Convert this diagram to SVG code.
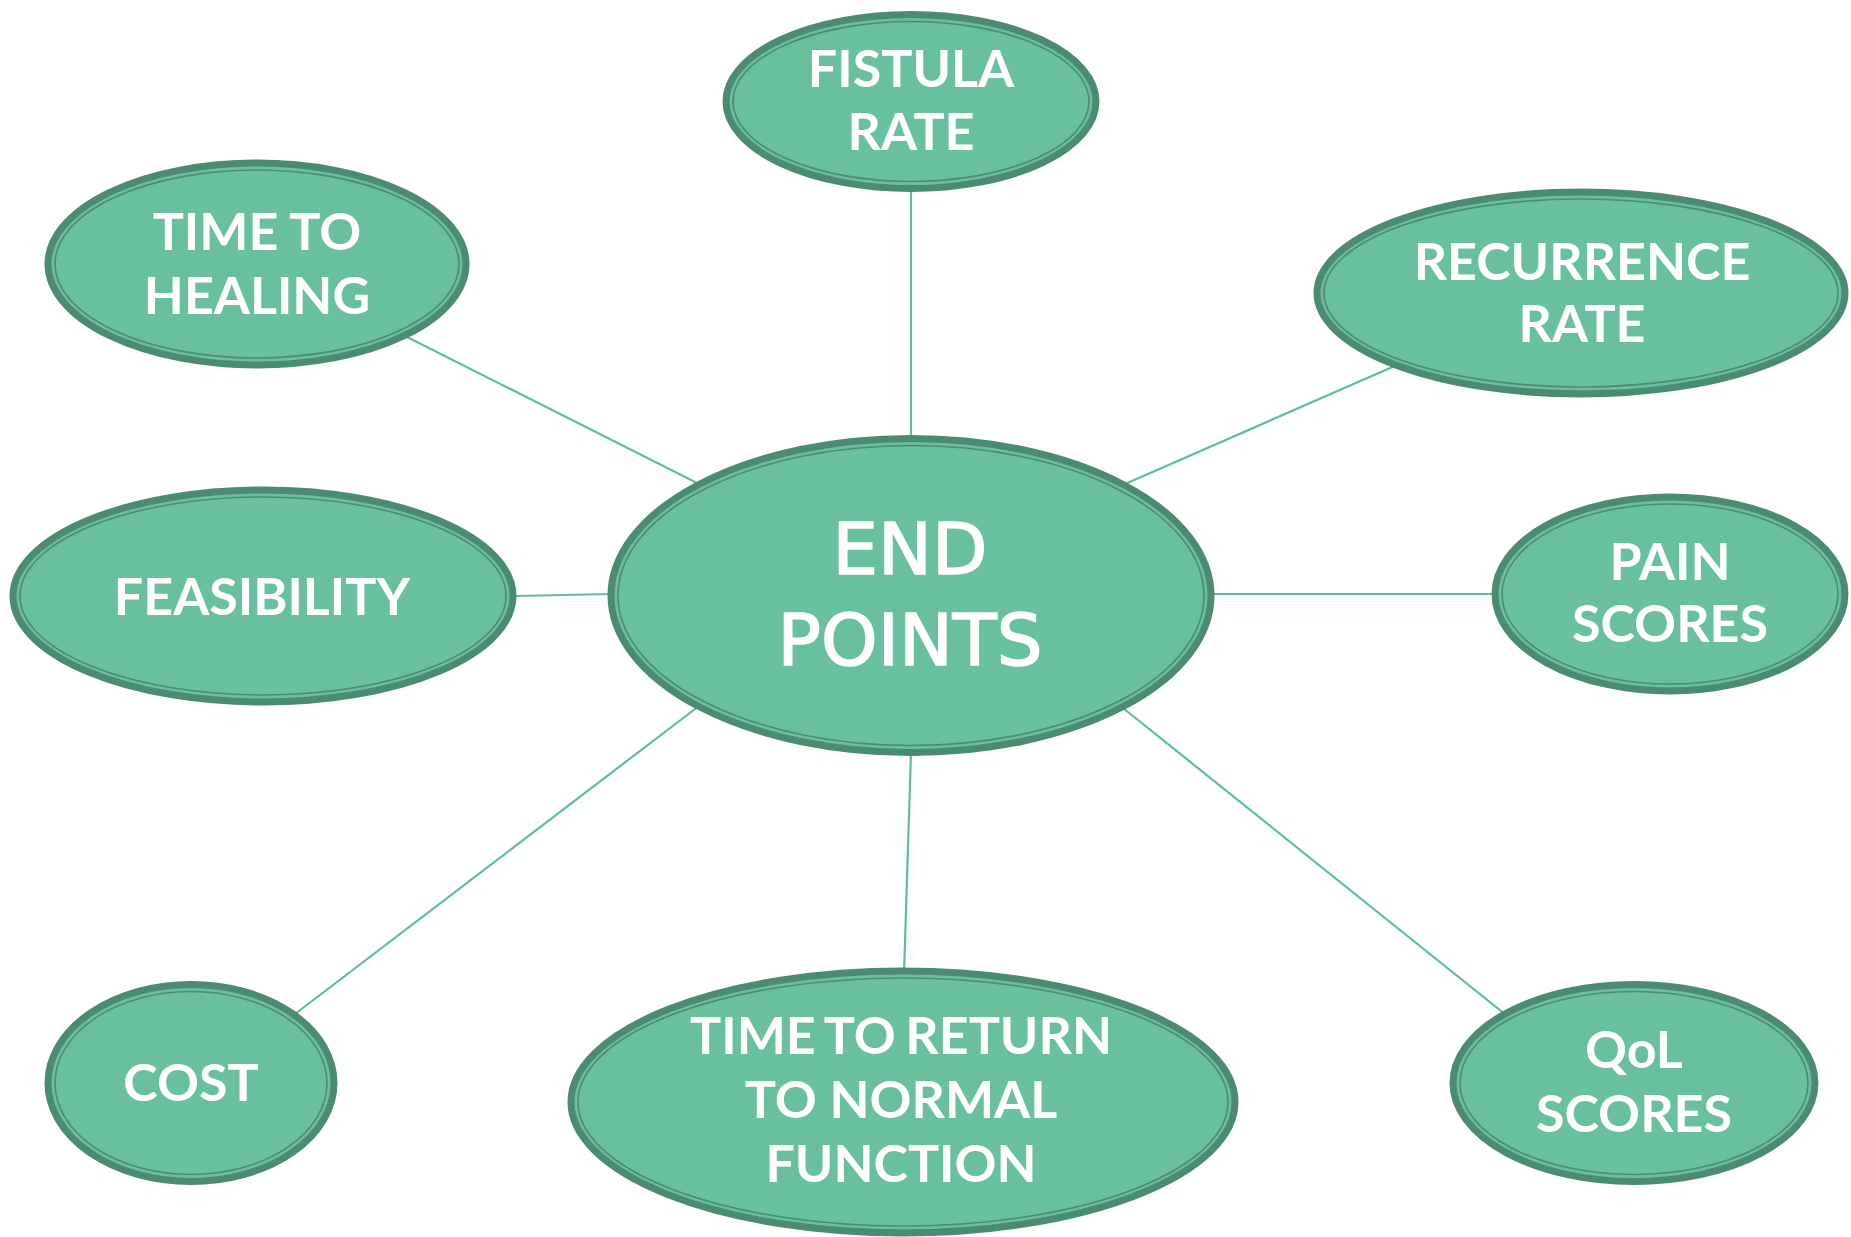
<svg xmlns="http://www.w3.org/2000/svg" width="1851" height="1237" viewBox="0 0 1851 1237">
<style>
.o{fill:#69c09e;stroke:#4b8b72;stroke-width:7}
.i{fill:none;stroke:#4b8b72;stroke-width:1.6}
.t{font-family:Lato,"Open Sans","Liberation Sans",sans-serif;font-weight:bold;font-size:52px;fill:#ffffff;text-anchor:middle}
.c{font-family:"DejaVu Sans",sans-serif;font-size:72px;fill:#ffffff;stroke:#ffffff;stroke-width:1.6;text-anchor:middle}
.l{stroke:#5cbf98;stroke-width:2.2;fill:none}
</style>
<rect width="1851" height="1237" fill="#ffffff"/>
<g id="connectors">
<line class="l" x1="911" y1="189" x2="911" y2="439"/>
<line class="l" x1="405" y1="336" x2="699" y2="484"/>
<line class="l" x1="1397" y1="365" x2="1125" y2="484"/>
<line class="l" x1="516" y1="596" x2="610" y2="594"/>
<line class="l" x1="1214" y1="594" x2="1495" y2="594"/>
<line class="l" x1="295" y1="1014" x2="699" y2="706"/>
<line class="l" x1="911" y1="752" x2="904" y2="974"/>
<line class="l" x1="1123" y1="708" x2="1506" y2="1015"/>
</g>
<g id="fistula">
<ellipse class="o" cx="911" cy="101.5" rx="185" ry="87"/>
<ellipse class="i" cx="911" cy="101.5" rx="178" ry="80"/>
<text class="t" x="911" y="87">FISTULA</text>
<text class="t" x="911" y="150">RATE</text>
</g>
<g id="healing">
<ellipse class="o" cx="257" cy="264" rx="209" ry="101"/>
<ellipse class="i" cx="257" cy="264" rx="202" ry="94"/>
<text class="t" x="257" y="250">TIME TO</text>
<text class="t" x="257" y="314">HEALING</text>
</g>
<g id="recurrence">
<ellipse class="o" cx="1581" cy="293" rx="264" ry="101"/>
<ellipse class="i" cx="1581" cy="293" rx="257" ry="94"/>
<text class="t" x="1582" y="280">RECURRENCE</text>
<text class="t" x="1582" y="342">RATE</text>
</g>
<g id="feasibility">
<ellipse class="o" cx="263" cy="596" rx="250" ry="106"/>
<ellipse class="i" cx="263" cy="596" rx="243" ry="99"/>
<text class="t" x="262" y="615">FEASIBILITY</text>
</g>
<g id="endpoints">
<ellipse class="o" cx="911" cy="595.5" rx="300" ry="157"/>
<ellipse class="i" cx="911" cy="595.5" rx="293" ry="150"/>
<text class="c" x="910" y="574">END</text>
<text class="c" x="910" y="665">POINTS</text>
</g>
<g id="pain">
<ellipse class="o" cx="1670" cy="594" rx="175" ry="97"/>
<ellipse class="i" cx="1670" cy="594" rx="168" ry="90"/>
<text class="t" x="1670" y="580">PAIN</text>
<text class="t" x="1670" y="642">SCORES</text>
</g>
<g id="cost">
<ellipse class="o" cx="191" cy="1083" rx="143" ry="98.5"/>
<ellipse class="i" cx="191" cy="1083" rx="136" ry="91.5"/>
<text class="t" x="191" y="1101">COST</text>
</g>
<g id="return">
<ellipse class="o" cx="903" cy="1102" rx="332" ry="131"/>
<ellipse class="i" cx="903" cy="1102" rx="325" ry="124"/>
<text class="t" x="901" y="1054" word-spacing="-3">TIME TO RETURN</text>
<text class="t" x="901" y="1118">TO NORMAL</text>
<text class="t" x="901" y="1182">FUNCTION</text>
</g>
<g id="qol">
<ellipse class="o" cx="1634" cy="1083" rx="181" ry="98.5"/>
<ellipse class="i" cx="1634" cy="1083" rx="174" ry="91.5"/>
<text class="t" x="1634" y="1068">QoL</text>
<text class="t" x="1634" y="1132">SCORES</text>
</g>
</svg>
